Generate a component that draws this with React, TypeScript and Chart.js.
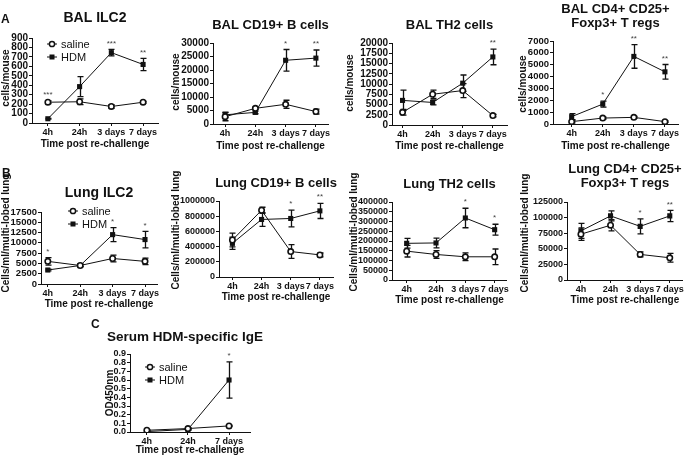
import React, { useEffect, useRef } from 'react';
import { Chart, registerables } from 'chart.js';

Chart.register(...registerables);

const FONT = "'Liberation Sans', Arial, Helvetica, sans-serif";
const INK = '#111';

// ---------- categories ----------
const TIMES_4 = ['4h', '24h', '3 days', '7 days'];
const TIMES_3 = ['4h', '24h', '7 days'];
const SERIES_NAMES = ['saline', 'HDM'];
const X_TITLE = 'Time post re-challenge';

// ---------- A: BAL ILC2 ----------
const balIlc2Saline = [220, 225, 175, 220];
const balIlc2SalineSem = [15, 30, 20, 10];
const balIlc2Hdm = [45, 385, 745, 620];
const balIlc2HdmSem = [5, 105, 35, 65];
const balIlc2Stars = ['***', '', '***', '**'];

// ---------- A: BAL CD19+ B cells ----------
const balBSaline = [2700, 5800, 7300, 4600];
const balBSalineSem = [1500, 400, 1500, 900];
const balBHdm = [3400, 4300, 23600, 24400];
const balBHdmSem = [1000, 500, 4000, 3000];
const balBStars = ['', '', '*', '**'];

// ---------- A: BAL TH2 cells ----------
const balTh2Saline = [3100, 7500, 8400, 2300];
const balTh2SalineSem = [700, 1000, 1700, 300];
const balTh2Hdm = [6000, 5500, 10200, 16600];
const balTh2HdmSem = [2500, 600, 2000, 1900];
const balTh2Stars = ['', '', '', '**'];

// ---------- A: BAL Tregs ----------
const balTregSaline = [200, 500, 560, 200];
const balTregSalineSem = [100, 80, 80, 60];
const balTregHdm = [620, 1680, 5700, 4400];
const balTregHdmSem = [250, 250, 1000, 620];
const balTregStars = ['', '*', '**', '**'];

// ---------- B: Lung ILC2 ----------
const lungIlc2Saline = [5500, 4500, 6200, 5500];
const lungIlc2SalineSem = [900, 300, 800, 800];
const lungIlc2Hdm = [3400, 4500, 12000, 10800];
const lungIlc2HdmSem = [200, 300, 1700, 2000];
const lungIlc2Stars = ['*', '', '*', '*'];

// ---------- B: Lung CD19+ B cells ----------
const lungBSaline = [487000, 878000, 335000, 291000];
const lungBSalineSem = [90000, 40000, 90000, 25000];
const lungBHdm = [443000, 757000, 770000, 870000];
const lungBHdmSem = [80000, 90000, 110000, 100000];
const lungBStars = ['', '', '*', '**'];

// ---------- B: Lung TH2 cells ----------
const lungTh2Saline = [148000, 131000, 119000, 119000];
const lungTh2SalineSem = [30000, 20000, 20000, 40000];
const lungTh2Hdm = [188000, 190000, 318000, 258000];
const lungTh2HdmSem = [25000, 25000, 50000, 28000];
const lungTh2Stars = ['', '', '*', '*'];

// ---------- B: Lung Tregs ----------
const lungTregSaline = [73400, 87800, 41000, 35600];
const lungTregSalineSem = [10000, 9000, 4000, 7000];
const lungTregHdm = [78700, 102700, 86000, 102700];
const lungTregHdmSem = [12000, 8000, 12000, 9000];
const lungTregStars = ['', '', '*', '**'];

// ---------- C: Serum HDM-specific IgE ----------
const igeSaline = [0.02, 0.04, 0.07];
const igeSalineSem = [0.005, 0.01, 0.006];
const igeHdm = [0.005, 0.03, 0.6];
const igeHdmSem = [0.004, 0.01, 0.21];
const igeStars = ['', '', '*'];

type Panel = {
  box: [number, number, number, number];
  area: [number, number, number, number];
  xRange: [number, number];
  labels: string[];
  yMax: number;
  yStep: number;
  yDec: number;
  title: string[];
  titleY: number;
  titleDx?: number;
  titleSize: number;
  yTitle: string;
  yTitlePos: [number, number];
  tickSize: number;
  saline: number[];
  salineSem: number[];
  hdm: number[];
  hdmSem: number[];
  stars: string[];
  legend?: [number, number];
};

const PANELS: Panel[] = [
  {
    box: [0, 0, 170, 150], area: [32, 38, 158, 123], xRange: [-0.5, 3.47], labels: TIMES_4,
    yMax: 900, yStep: 100, yDec: 0, title: ['BAL ILC2'], titleY: 18, titleSize: 14,
    yTitle: 'cells/mouse', yTitlePos: [6, 78], tickSize: 10,
    saline: balIlc2Saline, salineSem: balIlc2SalineSem, hdm: balIlc2Hdm, hdmSem: balIlc2HdmSem,
    stars: balIlc2Stars, legend: [52, 44],
  },
  {
    box: [170, 0, 170, 152], area: [213, 43, 328, 124], xRange: [-0.4, 3.4], labels: TIMES_4,
    yMax: 30000, yStep: 5000, yDec: 0, title: ['BAL CD19+ B cells'], titleY: 25, titleSize: 13,
    yTitle: 'cells/mouse', yTitlePos: [176, 82], tickSize: 10,
    saline: balBSaline, salineSem: balBSalineSem, hdm: balBHdm, hdmSem: balBHdmSem, stars: balBStars,
  },
  {
    box: [340, 0, 170, 152], area: [392, 43, 507, 125], xRange: [-0.35, 3.47], labels: TIMES_4,
    yMax: 20000, yStep: 2500, yDec: 0, title: ['BAL TH2 cells'], titleY: 25, titleSize: 13,
    yTitle: 'cells/mouse', yTitlePos: [350, 83], tickSize: 10,
    saline: balTh2Saline, salineSem: balTh2SalineSem, hdm: balTh2Hdm, hdmSem: balTh2HdmSem, stars: balTh2Stars,
  },
  {
    box: [510, 0, 175, 152], area: [553, 41, 678, 124], xRange: [-0.6, 3.42], labels: TIMES_4,
    yMax: 7000, yStep: 1000, yDec: 0, title: ['BAL CD4+ CD25+', 'Foxp3+ T regs'], titleY: 9, titleSize: 13,
    yTitle: 'cells/mouse', yTitlePos: [523, 84], tickSize: 9.5,
    saline: balTregSaline, salineSem: balTregSalineSem, hdm: balTregHdm, hdmSem: balTregHdmSem, stars: balTregStars,
  },
  {
    box: [0, 160, 170, 150], area: [41, 212, 157, 284], xRange: [-0.21, 3.37], labels: TIMES_4,
    yMax: 17500, yStep: 2500, yDec: 0, title: ['Lung ILC2'], titleY: 193, titleSize: 14,
    yTitle: 'Cells/ml/multi-lobed lung', yTitlePos: [6, 233], tickSize: 9.5,
    saline: lungIlc2Saline, salineSem: lungIlc2SalineSem, hdm: lungIlc2Hdm, hdmSem: lungIlc2HdmSem,
    stars: lungIlc2Stars, legend: [73, 211],
  },
  {
    box: [170, 160, 170, 143], area: [219, 201, 333, 277], xRange: [-0.46, 3.45], labels: TIMES_4,
    yMax: 1000000, yStep: 200000, yDec: 0, title: ['Lung CD19+ B cells'], titleY: 183, titleSize: 13,
    yTitle: 'Cells/ml/multi-lobed lung', yTitlePos: [176, 230], tickSize: 9,
    saline: lungBSaline, salineSem: lungBSalineSem, hdm: lungBHdm, hdmSem: lungBHdmSem, stars: lungBStars,
  },
  {
    box: [340, 160, 170, 146], area: [392, 202, 507, 280], xRange: [-0.5, 3.42], labels: TIMES_4,
    yMax: 400000, yStep: 50000, yDec: 0, title: ['Lung TH2 cells'], titleY: 184, titleSize: 13,
    yTitle: 'Cells/ml/multi-lobed lung', yTitlePos: [354, 232], tickSize: 9,
    saline: lungTh2Saline, salineSem: lungTh2SalineSem, hdm: lungTh2Hdm, hdmSem: lungTh2HdmSem, stars: lungTh2Stars,
  },
  {
    box: [510, 160, 175, 146], area: [567, 202, 683, 280], xRange: [-0.47, 3.44], labels: TIMES_4,
    yMax: 125000, yStep: 25000, yDec: 0, title: ['Lung CD4+ CD25+', 'Foxp3+ T regs'], titleY: 169, titleSize: 13,
    yTitle: 'Cells/ml/multi-lobed lung', yTitlePos: [525, 233], tickSize: 9,
    saline: lungTregSaline, salineSem: lungTregSalineSem, hdm: lungTregHdm, hdmSem: lungTregHdmSem, stars: lungTregStars,
  },
  {
    box: [60, 318, 240, 138], area: [130, 354, 250, 432], xRange: [-0.41, 2.51], labels: TIMES_3,
    yMax: 0.9, yStep: 0.1, yDec: 1, title: ['Serum HDM-specific IgE'], titleY: 337, titleDx: -5, titleSize: 13.5,
    yTitle: 'OD450nm', yTitlePos: [110, 393], tickSize: 9,
    saline: igeSaline, salineSem: igeSalineSem, hdm: igeHdm, hdmSem: igeHdmSem, stars: igeStars,
    legend: [150, 367],
  },
];

const X_TICK_SIZE = 9;

const decorPlugin = {
  id: 'decor',
  beforeDatasetsDraw(chart: any) {
    const ctx = chart.ctx;
    const xs = chart.scales.x;
    const ys = chart.scales.y;
    ctx.save();
    ctx.strokeStyle = INK;
    ctx.lineWidth = 1.3;
    chart.data.datasets.forEach((ds: any) => {
      const sem: number[] = ds.sem;
      ds.data.forEach((pt: any, i: number) => {
        const px = Math.round(xs.getPixelForValue(pt.x)) + 0.5;
        const top = ys.getPixelForValue(pt.y + sem[i]);
        const bot = ys.getPixelForValue(Math.max(0, pt.y - sem[i]));
        ctx.beginPath();
        ctx.moveTo(px, top);
        ctx.lineTo(px, bot);
        ctx.moveTo(px - 3, top);
        ctx.lineTo(px + 3, top);
        ctx.moveTo(px - 3, bot);
        ctx.lineTo(px + 3, bot);
        ctx.stroke();
      });
    });
    ctx.restore();
  },
  afterDraw(chart: any) {
    const p: Panel = chart.options.plugins.decor.panel;
    const ctx = chart.ctx;
    const xs = chart.scales.x;
    const ys = chart.scales.y;
    const bx = p.box[0];
    const by = p.box[1];
    ctx.save();
    // title
    ctx.fillStyle = INK;
    ctx.textAlign = 'center';
    ctx.textBaseline = 'middle';
    ctx.font = `bold ${p.titleSize}px ${FONT}`;
    const cx = (chart.chartArea.left + chart.chartArea.right) / 2 + (p.titleDx || 0);
    p.title.forEach((t, i) => ctx.fillText(t, cx, p.titleY - by + i * 14.5));
    // y title
    ctx.save();
    ctx.translate(p.yTitlePos[0] - bx, p.yTitlePos[1] - by);
    ctx.rotate(-Math.PI / 2);
    ctx.font = `bold 10px ${FONT}`;
    ctx.fillText(p.yTitle, 0, 0);
    ctx.restore();
    // significance stars
    ctx.font = `8px ${FONT}`;
    ctx.fillStyle = '#444';
    p.stars.forEach((s, i) => {
      if (!s) return;
      let top = Infinity;
      chart.data.datasets.forEach((ds: any) => {
        top = Math.min(top, ys.getPixelForValue(ds.data[i].y + ds.sem[i]));
      });
      ctx.fillText(s, xs.getPixelForValue(i), top - 6);
    });
    // legend
    if (p.legend) {
      const [lx, ly] = p.legend;
      chart.data.datasets.forEach((ds: any, i: number) => {
        const mx = lx - bx;
        const my = ly - by + i * 13;
        ctx.strokeStyle = INK;
        ctx.lineWidth = 1;
        ctx.beginPath();
        ctx.moveTo(mx - 5, my);
        ctx.lineTo(mx + 5, my);
        ctx.stroke();
        ctx.lineWidth = 1.5;
        if (i === 0) {
          ctx.beginPath();
          ctx.arc(mx, my, 2.6, 0, Math.PI * 2);
          ctx.fillStyle = '#fff';
          ctx.fill();
          ctx.stroke();
        } else {
          ctx.fillStyle = INK;
          ctx.fillRect(mx - 2.5, my - 2.5, 5, 5);
        }
        ctx.fillStyle = INK;
        ctx.textAlign = 'left';
        ctx.font = `11px ${FONT}`;
        ctx.fillText(ds.label, mx + 9, my + 0.5);
      });
    }
    ctx.restore();
  },
};

function PanelChart({ p }: { p: Panel }) {
  const ref = useRef<HTMLCanvasElement>(null);
  useEffect(() => {
    const [bx, by, bw, bh] = p.box;
    const [L, T, R, B] = p.area;
    const yTickFont = { family: FONT, size: p.tickSize, weight: 'bold' as const };
    const xTickFont = { family: FONT, size: X_TICK_SIZE, weight: 'bold' as const };
    const chart = new Chart(ref.current as HTMLCanvasElement, {
      type: 'line',
      data: {
        datasets: [
          {
            label: SERIES_NAMES[0],
            data: p.saline.map((v, i) => ({ x: i, y: v })),
            sem: p.salineSem,
            borderColor: INK,
            borderWidth: 1,
            pointStyle: 'circle',
            pointRadius: 2.7,
            pointBorderWidth: 1.6,
            pointBackgroundColor: '#fff',
            pointBorderColor: INK,
          } as any,
          {
            label: SERIES_NAMES[1],
            data: p.hdm.map((v, i) => ({ x: i, y: v })),
            sem: p.hdmSem,
            borderColor: INK,
            borderWidth: 1,
            pointStyle: 'rect',
            pointRadius: 3.6,
            pointBorderWidth: 0,
            pointBackgroundColor: INK,
            pointBorderColor: INK,
          } as any,
        ],
      },
      options: {
        animation: false,
        responsive: false,
        devicePixelRatio: 1,
        events: [],
        layout: {
          autoPadding: false,
          padding: { left: 0, top: T - by, right: bx + bw - R, bottom: 0 },
        },
        plugins: {
          legend: { display: false },
          tooltip: { enabled: false },
          title: { display: false },
          decor: { panel: p },
        } as any,
        scales: {
          x: {
            type: 'linear',
            min: p.xRange[0],
            max: p.xRange[1],
            afterBuildTicks: (s: any) => {
              s.ticks = p.labels.map((_, i) => ({ value: i }));
            },
            afterFit: (s: any) => {
              s.height = by + bh - B;
            },
            ticks: {
              callback: (v: any) => p.labels[v] ?? '',
              font: xTickFont,
              color: INK,
              padding: 1,
              maxRotation: 0,
              autoSkip: false,
            },
            grid: { display: true, drawOnChartArea: false, drawTicks: true, tickLength: 3, color: INK, lineWidth: 1 },
            border: { display: true, color: INK, width: 1 },
            title: {
              display: true,
              text: X_TITLE,
              font: { family: FONT, size: 10, weight: 'bold' },
              color: INK,
              padding: 0,
            },
          },
          y: {
            type: 'linear',
            min: 0,
            max: p.yMax,
            afterFit: (s: any) => {
              s.width = L - bx;
            },
            ticks: {
              stepSize: p.yStep,
              autoSkip: false,
              callback: (v: any) => Number(v).toFixed(p.yDec),
              font: yTickFont,
              color: INK,
              padding: 1,
            },
            grid: { display: true, drawOnChartArea: false, drawTicks: true, tickLength: 3, color: INK, lineWidth: 1 },
            border: { display: true, color: INK, width: 1 },
          },
        },
      } as any,
      plugins: [decorPlugin],
    });
    return () => chart.destroy();
  }, []);
  return (
    <canvas
      ref={ref}
      width={p.box[2]}
      height={p.box[3]}
      style={{ position: 'absolute', left: p.box[0], top: p.box[1], width: p.box[2], height: p.box[3] }}
    />
  );
}

const letterStyle = (x: number, y: number): React.CSSProperties => ({
  position: 'absolute',
  left: x,
  top: y,
  font: `bold 12px ${FONT}`,
  color: INK,
  lineHeight: '12px',
});

export default function App() {
  return (
    <div style={{ position: 'fixed', left: 0, top: 0, width: 685, height: 470, background: '#fff', overflow: 'hidden' }}>
      {PANELS.map((p, i) => (
        <PanelChart key={i} p={p} />
      ))}
      <div style={letterStyle(1, 13)}>A</div>
      <div style={letterStyle(2, 167)}>B</div>
      <div style={letterStyle(91, 318)}>C</div>
    </div>
  );
}
